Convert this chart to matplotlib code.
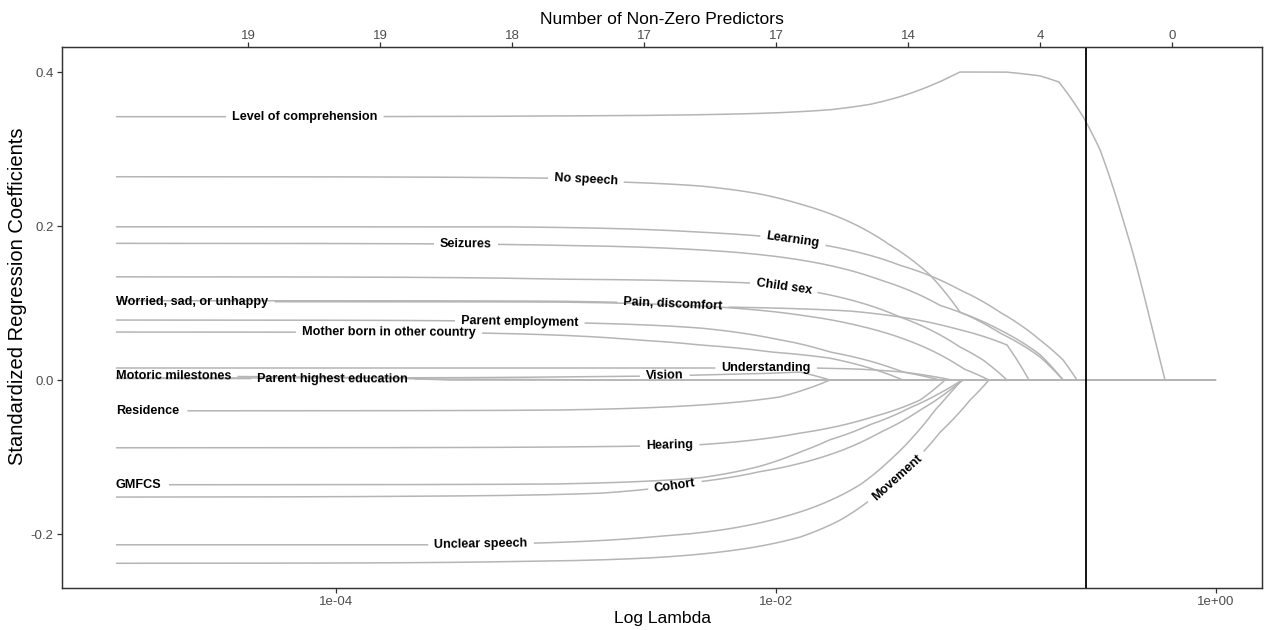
import numpy as np
import matplotlib
matplotlib.use("Agg")
import matplotlib.pyplot as plt
from matplotlib.ticker import FixedLocator, FixedFormatter, NullLocator

plt.rcParams['font.family'] = ['Liberation Sans', 'DejaVu Sans']

# ---- lasso coefficient paths: knots in log10(lambda) and standardized coefficient ----
comprehension_loglam = [-5.0, -3.0, -2.0, -1.755, -1.573, -1.436, -1.3, -1.2, -1.164, -0.955, -0.8, -0.714, -0.6, -0.527, -0.436, -0.345, -0.3, -0.255, -0.232, 0.0]
comprehension_coef = [0.342, 0.343, 0.347, 0.351, 0.358, 0.368, 0.382, 0.395, 0.400, 0.400, 0.395, 0.387, 0.340, 0.299, 0.221, 0.130, 0.078, 0.026, 0.0, 0.0]

no_speech_loglam = [-5.0, -3.0, -2.691, -2.345, -2.073, -1.891, -1.664, -1.482, -1.3, -1.164, -0.982, -0.8, -0.695, 0.0]
no_speech_coef = [0.264, 0.262, 0.257, 0.252, 0.2416, 0.2286, 0.2052, 0.1753, 0.1364, 0.0883, 0.061, 0.030, 0.0, 0.0]

learning_loglam = [-5.0, -3.255, -2.345, -2.073, -1.777, -1.436, -1.164, -0.982, -0.8, -0.695, -0.632, 0.0]
learning_coef = [0.199, 0.199, 0.192, 0.187, 0.175, 0.149, 0.117, 0.088, 0.052, 0.026, 0.0, 0.0]

seizures_loglam = [-5.0, -3.0, -2.345, -1.891, -1.527, -1.255, -1.164, -0.982, -0.8, -0.695, 0.0]
seizures_coef = [0.1775, 0.175, 0.169, 0.156, 0.130, 0.097, 0.088, 0.065, 0.033, 0.0, 0.0]

child_sex_loglam = [-5.0, -3.0, -2.118, -1.823, -1.436, -1.164, -1.059, -0.95, 0.0]
child_sex_coef = [0.134, 0.131, 0.126, 0.1143, 0.0818, 0.0429, 0.026, 0.0, 0.0]

worried_loglam = [-5.0, -3.0, -2.345, -1.891, -1.618, -1.405, -1.145, -1.032, 0.0]
worried_coef = [0.1017, 0.1013, 0.0961, 0.0844, 0.0701, 0.0519, 0.0143, 0.0, 0.0]

pain_loglam = [-5.0, -3.0, -2.241, -1.664, -1.405, -1.195, -0.95, -0.85, 0.0]
pain_coef = [0.1030, 0.1024, 0.0948, 0.0896, 0.0805, 0.0675, 0.0455, 0.0, 0.0]

employment_loglam = [-5.0, -2.868, -2.345, -2.023, -1.755, -1.423, -1.255, 0.0]
employment_coef = [0.0779, 0.0740, 0.0675, 0.0545, 0.0364, 0.0104, 0.0, 0.0]

mother_born_loglam = [-5.0, -3.345, -2.627, -2.345, -2.023, -1.759, -1.423, 0.0]
mother_born_coef = [0.0623, 0.0610, 0.0519, 0.0455, 0.0364, 0.0286, 0.0, 0.0]

understanding_loglam = [-5.0, -1.836, -1.632, -1.423, -1.2, 0.0]
understanding_coef = [0.0156, 0.0156, 0.0143, 0.0104, 0.0, 0.0]

motoric_loglam = [-5.0, -4.164, -3.482, 0.0]
motoric_coef = [0.005, 0.004, 0.0, 0.0]

education_loglam = [-5.0, -3.709, -2.8, 0.0]
education_coef = [0.002, 0.0013, 0.0, 0.0]

vision_loglam = [-5.0, -3.0, -2.345, -1.891, -1.755, 0.0]
vision_coef = [0.0026, 0.004, 0.0065, 0.0104, 0.0, 0.0]

residence_loglam = [-5.0, -3.0, -2.345, -1.982, -1.755, 0.0]
residence_coef = [-0.040, -0.039, -0.0325, -0.022, 0.0, 0.0]

hearing_loglam = [-5.0, -3.0, -2.345, -1.891, -1.573, -1.345, -1.232, 0.0]
hearing_coef = [-0.088, -0.087, -0.084, -0.069, -0.049, -0.026, 0.0, 0.0]

gmfcs_loglam = [-5.0, -3.0, -2.345, -2.073, -1.891, -1.759, -1.573, -1.391, -1.255, -1.155, 0.0]
gmfcs_coef = [-0.136, -0.135, -0.127, -0.112, -0.0935, -0.078, -0.058, -0.036, -0.017, 0.0, 0.0]

cohort_loglam = [-5.0, -3.709, -2.8, -2.345, -2.073, -1.8, -1.527, -1.345, -1.209, -1.15, 0.0]
cohort_coef = [-0.152, -0.151, -0.147, -0.132, -0.119, -0.101, -0.068, -0.039, -0.013, 0.0, 0.0]

unclear_loglam = [-5.0, -3.573, -2.573, -2.255, -1.982, -1.8, -1.618, -1.482, -1.368, -1.277, -1.209, -1.155, 0.0]
unclear_coef = [-0.214, -0.214, -0.204, -0.195, -0.179, -0.162, -0.136, -0.104, -0.071, -0.039, -0.017, 0.0, 0.0]

movement_loglam = [-5.0, -3.255, -2.573, -2.118, -1.891, -1.709, -1.573, -1.436, -1.323, -1.255, -1.195, -1.118, -1.032, 0.0]
movement_coef = [-0.238, -0.236, -0.231, -0.218, -0.204, -0.182, -0.156, -0.123, -0.091, -0.068, -0.051, -0.026, 0.0, 0.0]

# cross-validated lambda (log10) and the number of non-zero predictors along the path
cv_loglam = -0.591
df_loglam = [-4.4, -3.8, -3.2, -2.6, -2.0, -1.4, -0.8, -0.2]
df_counts = ["19", "19", "18", "17", "17", "14", "4", "0"]

bottom_ticks = [1e-4, 1e-2, 1e0]
bottom_labels = ["1e-04", "1e-02", "1e+00"]
y_ticks = [-0.2, 0.0, 0.2, 0.4]
y_labels = ["-0.2", "0.0", "0.2", "0.4"]

predictors = [
    ("Level of comprehension", comprehension_loglam, comprehension_coef),
    ("No speech", no_speech_loglam, no_speech_coef),
    ("Learning", learning_loglam, learning_coef),
    ("Seizures", seizures_loglam, seizures_coef),
    ("Child sex", child_sex_loglam, child_sex_coef),
    ("Worried, sad, or unhappy", worried_loglam, worried_coef),
    ("Pain, discomfort", pain_loglam, pain_coef),
    ("Parent employment", employment_loglam, employment_coef),
    ("Mother born in other country", mother_born_loglam, mother_born_coef),
    ("Understanding", understanding_loglam, understanding_coef),
    ("Motoric milestones", motoric_loglam, motoric_coef),
    ("Parent highest education", education_loglam, education_coef),
    ("Vision", vision_loglam, vision_coef),
    ("Residence", residence_loglam, residence_coef),
    ("Hearing", hearing_loglam, hearing_coef),
    ("GMFCS", gmfcs_loglam, gmfcs_coef),
    ("Cohort", cohort_loglam, cohort_coef),
    ("Unclear speech", unclear_loglam, unclear_coef),
    ("Movement", movement_loglam, movement_coef),
]

# where each label sits along its path (log10 lambda of label centre, or None = start of path)
label_at = {
    "Level of comprehension": -4.141,
    "No speech": -2.864,
    "Learning": -1.923,
    "Seizures": -3.409,
    "Child sex": -1.964,
    "Worried, sad, or unhappy": None,
    "Pain, discomfort": -2.468,
    "Parent employment": -3.164,
    "Mother born in other country": -3.759,
    "Understanding": -2.045,
    "Motoric milestones": None,
    "Parent highest education": -4.014,
    "Vision": -2.505,
    "Residence": None,
    "Hearing": -2.482,
    "GMFCS": None,
    "Cohort": -2.459,
    "Unclear speech": -3.341,
    "Movement": -1.45,
}

LINE_COLOR = "#b5b5b5"
LINE_W = 1.1
LABEL_SIZE = 9.1
GAP = 6.0  # px of clear line around each label

W, H = 1264, 630
fig = plt.figure(figsize=(W / 100, H / 100), dpi=100)
ax = fig.add_axes([62 / W, 42 / H, 1200 / W, 541 / H])
ax.set_xscale("log")
xlim = (10 ** -5.245, 10 ** 0.209)
ax.set_xlim(*xlim)
ax.set_ylim(-0.2701, 0.4325)
fig.canvas.draw()
renderer = fig.canvas.get_renderer()


def lasso_segments(xs, ys, n=4000):
    """Lasso paths are piecewise linear in lambda: resample each knot interval linearly in lambda."""
    lam = 10 ** np.asarray(xs, float)
    fl = np.concatenate([np.linspace(a, b, max(2, int(n * (np.log10(b) - np.log10(a)) / 5)), endpoint=False)
                         for a, b in zip(lam[:-1], lam[1:])] + [lam[-1:]])
    fy = np.interp(fl, lam, np.asarray(ys, float))
    return fl, fy


def draw_labelled_path(name, xs, ys, where):
    fl, fy = lasso_segments(xs, ys)
    disp = ax.transData.transform(np.column_stack([fl, fy]))
    arc = np.concatenate([[0.0], np.cumsum(np.hypot(np.diff(disp[:, 0]), np.diff(disp[:, 1])))])

    probe = fig.text(0, 0, name, fontsize=LABEL_SIZE, fontweight="bold")
    width = probe.get_window_extent(renderer).width
    probe.remove()

    if where is None:
        s0, s1 = 0.0, width
    else:
        sc = np.interp(10 ** where, fl, arc)
        s0, s1 = sc - width / 2, sc + width / 2
    sc = 0.5 * (s0 + s1)
    p0 = np.array([np.interp(s0, arc, disp[:, 0]), np.interp(s0, arc, disp[:, 1])])
    p1 = np.array([np.interp(s1, arc, disp[:, 0]), np.interp(s1, arc, disp[:, 1])])
    pc = np.array([np.interp(sc, arc, disp[:, 0]), np.interp(sc, arc, disp[:, 1])])
    angle = np.degrees(np.arctan2(p1[1] - p0[1], p1[0] - p0[0]))

    line_y = fy.copy()
    cut = (arc > s0 - GAP) & (arc < s1 + GAP)
    line_y[cut] = np.nan
    ax.plot(fl, line_y, color=LINE_COLOR, lw=LINE_W, solid_capstyle="butt", zorder=2)

    tx, ty = ax.transData.inverted().transform(pc)
    ax.text(tx, ty, name, fontsize=LABEL_SIZE, fontweight="bold", color="black",
            ha="center", va="center", rotation=angle, rotation_mode="anchor", zorder=4)


for name, xs, ys in predictors:
    draw_labelled_path(name, xs, ys, label_at[name])

ax.axvline(10 ** cv_loglam, color="black", lw=1.3, zorder=3)

AX_COLOR = "#333333"
TICK_COLOR = "#4d4d4d"
for sp in ax.spines.values():
    sp.set_color(AX_COLOR)
    sp.set_linewidth(0.9)

ax.xaxis.set_major_locator(FixedLocator(bottom_ticks))
ax.xaxis.set_major_formatter(FixedFormatter(bottom_labels))
ax.xaxis.set_minor_locator(NullLocator())
ax.set_yticks(y_ticks)
ax.set_yticklabels(y_labels)
ax.tick_params(axis="both", length=3.5, width=0.9, color=AX_COLOR, labelcolor=TICK_COLOR,
               labelsize=9.5, pad=2.5)
ax.set_xlabel("Log Lambda", fontsize=12.6, color="black", labelpad=2)
ax.set_ylabel("Standardized Regression Coefficients", fontsize=14.5, color="black")
ax.yaxis.set_label_coords(-0.029, 0.54)

top = ax.twiny()
top.set_xscale("log")
top.set_xlim(*xlim)
top.xaxis.set_major_locator(FixedLocator([10 ** v for v in df_loglam]))
top.xaxis.set_major_formatter(FixedFormatter(df_counts))
top.xaxis.set_minor_locator(NullLocator())
top.tick_params(axis="x", length=3.5, width=0.9, color=AX_COLOR, labelcolor=TICK_COLOR,
                labelsize=9.5, pad=0.3)
top.set_xlabel("Number of Non-Zero Predictors", fontsize=12.6, color="black", labelpad=4)
for sp in top.spines.values():
    sp.set_color(AX_COLOR)
    sp.set_linewidth(0.9)

fig.savefig("out.png", dpi=100, facecolor="white")
